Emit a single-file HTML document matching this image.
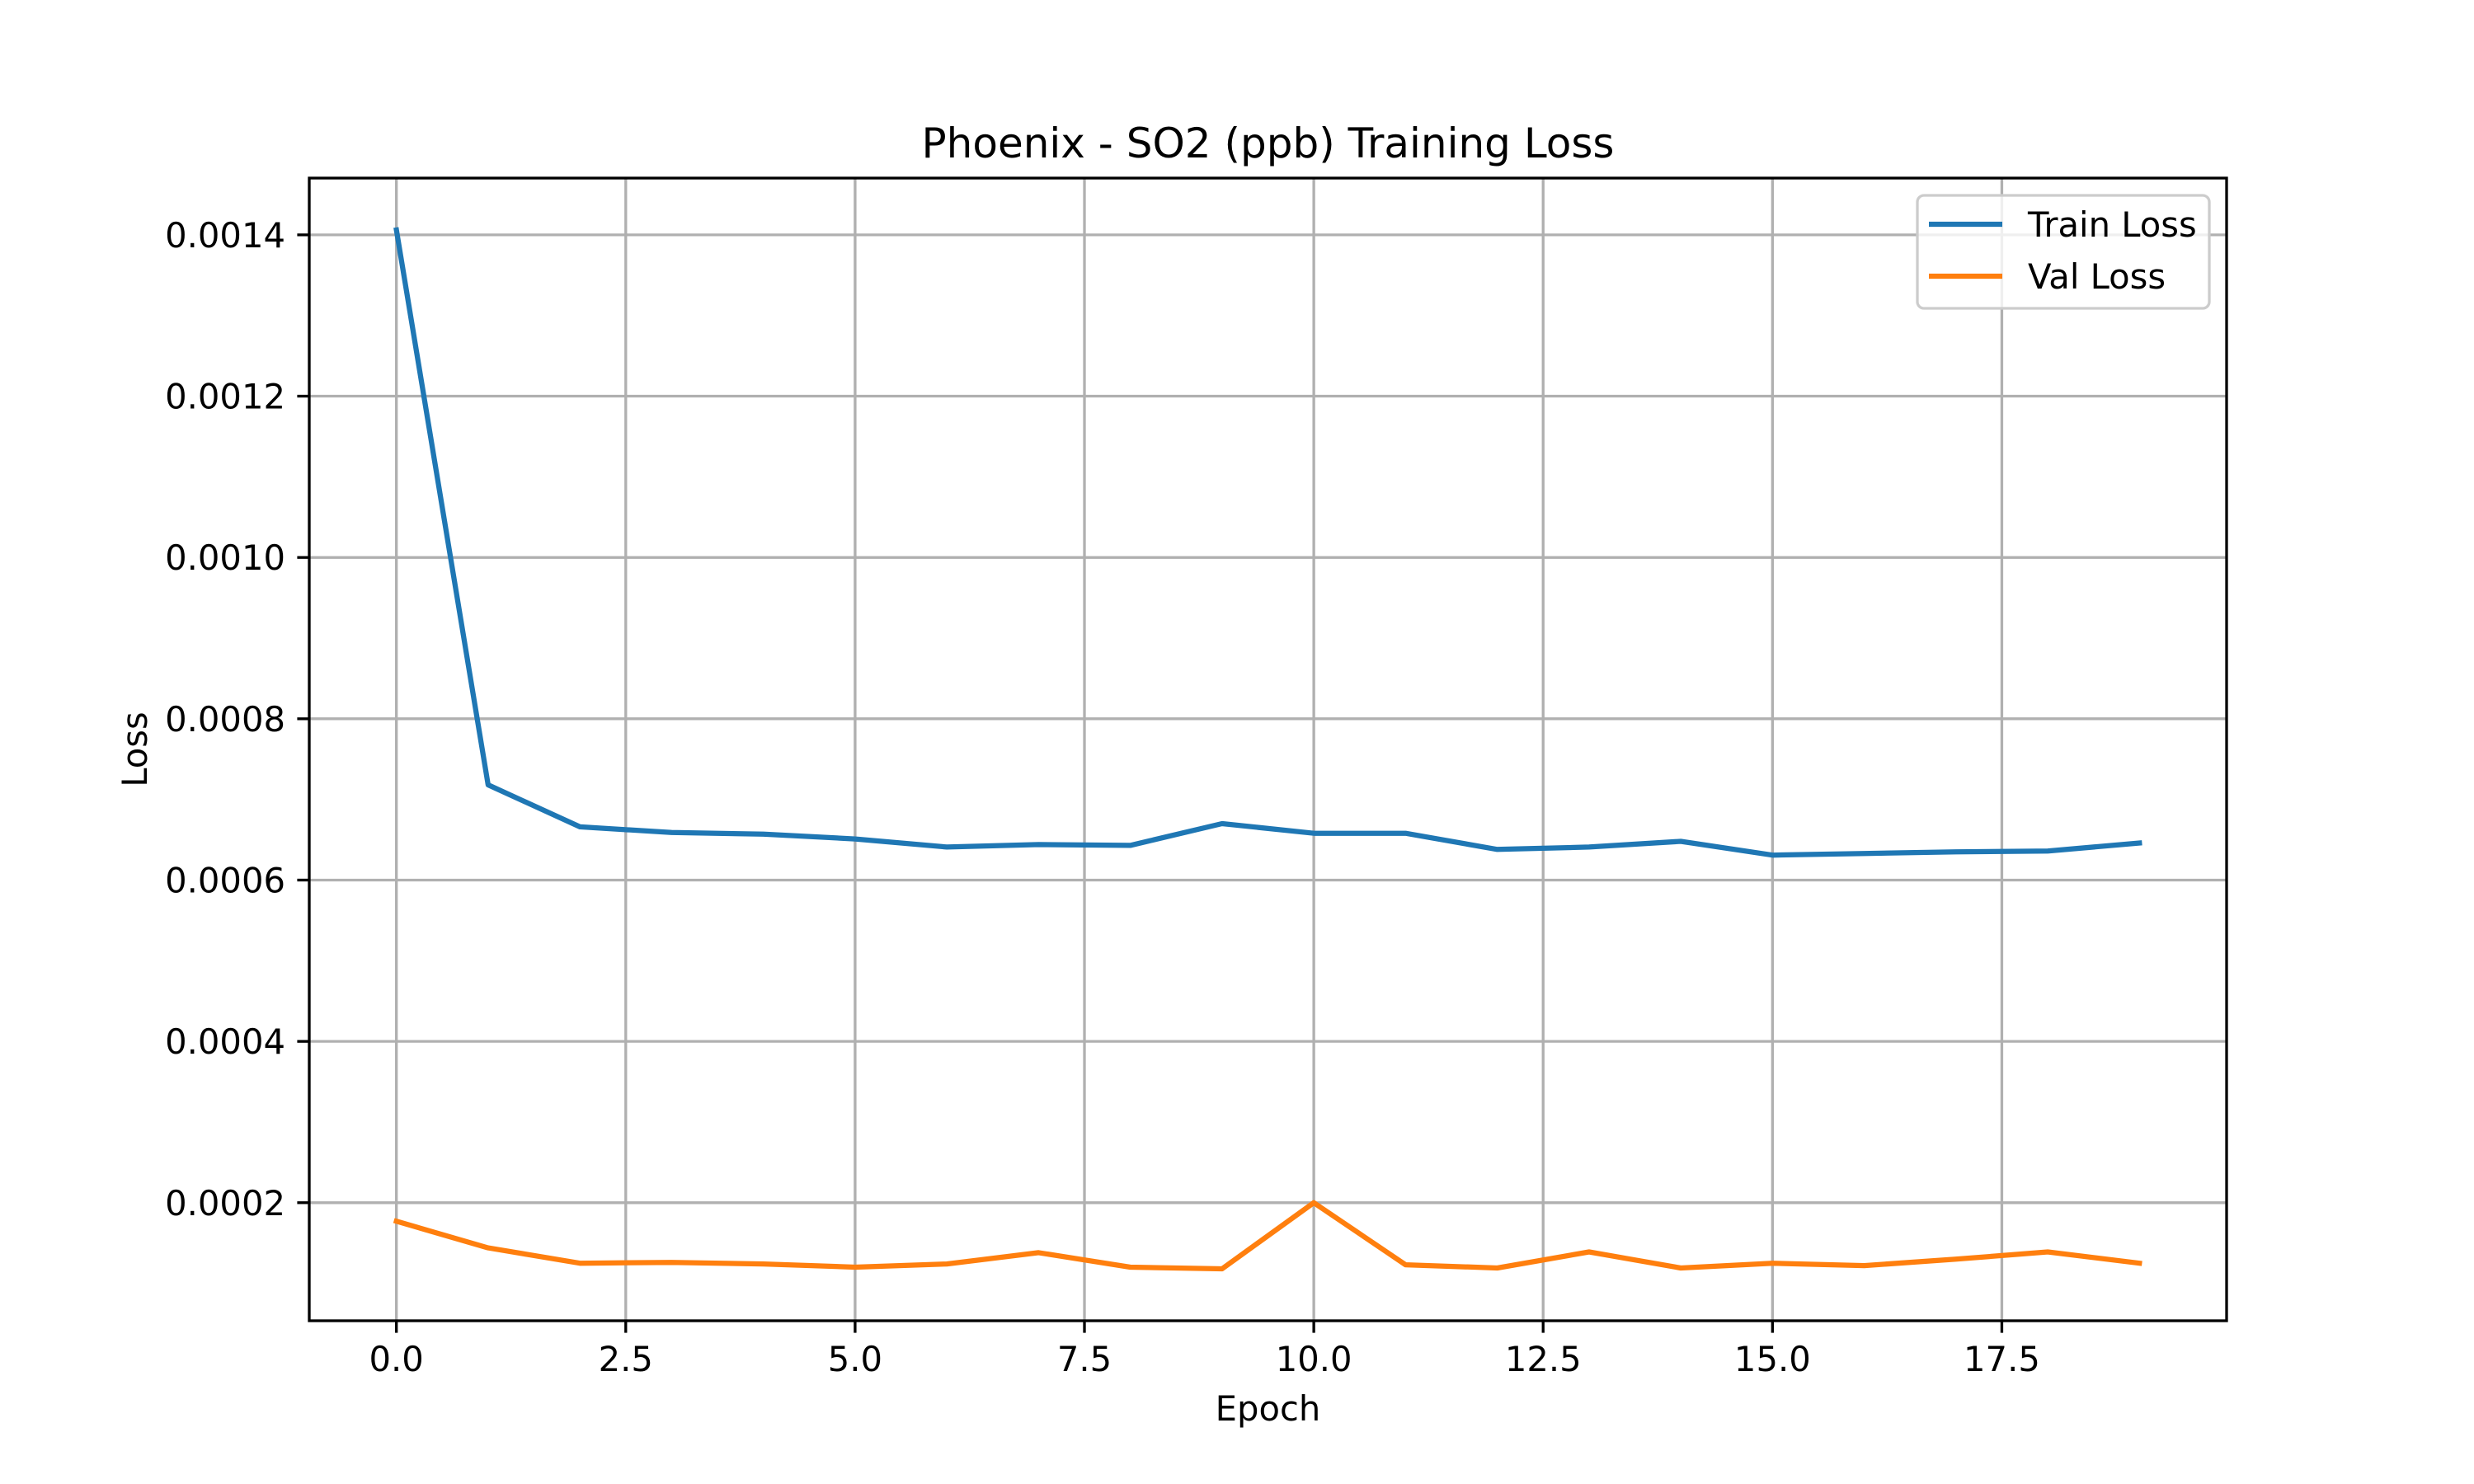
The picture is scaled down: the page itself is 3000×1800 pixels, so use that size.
<!DOCTYPE html>
<html><head><meta charset="utf-8"><style>
html,body{margin:0;padding:0;background:#fff;}
svg{display:block;font-family:"DejaVu Sans","Liberation Sans",sans-serif;}
</style></head><body>
<svg id="chart" width="3000" height="1800" viewBox="0 0 3000 1800" xmlns="http://www.w3.org/2000/svg">
<rect x="0" y="0" width="3000" height="1800" fill="#fff"/>
<g id="grid"></g>
<g id="series"></g>
<g id="axes"></g>
<text x="1537.5" y="191" font-size="50" text-anchor="middle">Phoenix - SO2 (ppb) Training Loss</text>
<text x="1537.5" y="1723" font-size="41.7" text-anchor="middle">Epoch</text>
<text x="0" y="0" font-size="41.7" text-anchor="middle" transform="translate(178,909) rotate(-90)">Loss</text>
<g>
<rect x="2325" y="237" width="354" height="137" rx="8" fill="#fff" fill-opacity="0.8" stroke="#cccccc" stroke-width="3.3"/>
<line x1="2339" y1="272" x2="2428" y2="272" stroke="#1f77b4" stroke-width="6.25"/>
<text x="2459" y="287" font-size="41.7">Train Loss</text>
<line x1="2339" y1="335" x2="2428" y2="335" stroke="#ff7f0e" stroke-width="6.25"/>
<text x="2459" y="350" font-size="41.7">Val Loss</text>
</g>
</svg>
<script>
const epochs = [0,1,2,3,4,5,6,7,8,9,10,11,12,13,14,15,16,17,18,19];
const trainLoss = [0.001406,0.000718,0.000666,0.000659,0.000657,0.000651,0.000641,0.000644,0.000643,0.000670,0.000658,0.000658,0.000638,0.000641,0.000648,0.000631,0.000633,0.000635,0.000636,0.000646];
const valLoss = [0.000177,0.000144,0.000125,0.000126,0.000124,0.000120,0.000124,0.000138,0.000120,0.000118,0.000200,0.000123,0.000119,0.000139,0.000119,0.000125,0.000122,0.000130,0.000139,0.000125];
const xTicks = [0,2.5,5,7.5,10,12.5,15,17.5];
const xTickLabels = ["0.0","2.5","5.0","7.5","10.0","12.5","15.0","17.5"];
const yTicks = [0.0002,0.0004,0.0006,0.0008,0.0010,0.0012,0.0014];
const yTickLabels = ["0.0002","0.0004","0.0006","0.0008","0.0010","0.0012","0.0014"];

const L=375,R=2700,T=216,B=1602;
const allV=trainLoss.concat(valLoss);
const vmin=Math.min(...allV), vmax=Math.max(...allV);
const ypad=(vmax-vmin)*0.05;
const y0=vmin-ypad, y1=vmax+ypad;
const xmin=Math.min(...epochs), xmax=Math.max(...epochs);
const xpad=(xmax-xmin)*0.05;
const x0=xmin-xpad, x1=xmax+xpad;
function sx(v){return L+(v-x0)/(x1-x0)*(R-L);}
function sy(v){return B-(v-y0)/(y1-y0)*(B-T);}
const NS="http://www.w3.org/2000/svg";
function mk(tag,attrs,parent){const e=document.createElementNS(NS,tag);for(const k in attrs)e.setAttribute(k,attrs[k]);parent.appendChild(e);return e;}
const grid=document.getElementById('grid'), axes=document.getElementById('axes'), series=document.getElementById('series');
xTicks.forEach((t,i)=>{
  const x=sx(t);
  const g=mk('line',{x1:x,y1:T,x2:x,y2:B,stroke:'#b0b0b0','stroke-width':3.33},grid);
  
  
  const tk=mk('line',{x1:x,y1:B,x2:x,y2:B+14.6,stroke:'#000','stroke-width':3.33},axes);
  
  
  const lb=mk('text',{x:x,y:1663,'font-size':41.7,'text-anchor':'middle'},axes);
  lb.textContent=xTickLabels[i];
  
  
});
yTicks.forEach((t,i)=>{
  const y=sy(t);
  const g=mk('line',{x1:L,y1:y,x2:R,y2:y,stroke:'#b0b0b0','stroke-width':3.33},grid);
  
  
  const tk=mk('line',{x1:L-14.6,y1:y,x2:L,y2:y,stroke:'#000','stroke-width':3.33},axes);
  
  
  const lb=mk('text',{x:346,y:y+15,'font-size':41.7,'text-anchor':'end'},axes);
  lb.textContent=yTickLabels[i];
  
  
});
function pts(arr){return arr.map((v,i)=>sx(epochs[i]).toFixed(1)+','+sy(v).toFixed(1)).join(' ');}
const tl=mk('polyline',{points:pts(trainLoss),fill:'none',stroke:'#1f77b4','stroke-width':6.25,'stroke-linejoin':'round','stroke-linecap':'square'},series);


const vl=mk('polyline',{points:pts(valLoss),fill:'none',stroke:'#ff7f0e','stroke-width':6.25,'stroke-linejoin':'round','stroke-linecap':'square'},series);


const fr=mk('rect',{x:L,y:T,width:R-L,height:B-T,fill:'none',stroke:'#000','stroke-width':3.33},axes);


</script>
</body></html>
